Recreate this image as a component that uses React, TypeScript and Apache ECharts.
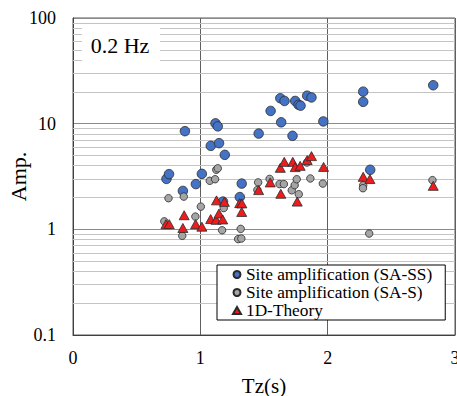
import React, { useEffect, useRef } from "react";
import * as echarts from "echarts";

// Tz(s), Amp.
const saSS: [number, number][] = [
  [0.734, 3.0], [0.754, 3.33], [0.863, 2.31], [0.879, 8.49], [0.965, 2.68],
  [1.012, 3.35], [1.082, 6.17], [1.119, 10.07], [1.137, 9.43], [1.147, 6.54],
  [1.192, 5.07], [1.178, 1.83], [1.31, 2.02], [1.325, 2.71], [1.458, 8.06],
  [1.552, 13.2], [1.628, 17.4], [1.661, 16.4], [1.635, 10.3], [1.724, 7.67],
  [1.745, 16.4], [1.771, 15.1], [1.787, 14.8], [1.839, 18.4], [1.873, 17.7],
  [1.966, 10.5], [2.279, 20.1], [2.279, 16.1], [2.334, 3.66], [2.829, 23.1],
];

const saS: [number, number][] = [
  [0.717, 1.19], [0.75, 1.97], [0.858, 0.868], [0.87, 2.04], [0.961, 1.32],
  [1.004, 1.64], [1.074, 2.88], [1.116, 2.98], [1.125, 3.66], [1.137, 3.78],
  [1.171, 0.98], [1.184, 1.59], [1.297, 0.808], [1.322, 0.818], [1.317, 1.01],
  [1.454, 2.78], [1.448, 2.36], [1.544, 3.0], [1.622, 2.68], [1.656, 2.68],
  [1.718, 2.34], [1.741, 2.62], [1.757, 2.98], [1.773, 2.15], [1.837, 4.29],
  [1.864, 3.03], [1.962, 2.71], [2.279, 2.61], [2.277, 2.45], [2.326, 0.912],
  [2.823, 2.92],
];

const theory1D: [number, number][] = [
  [0.73, 1.12], [0.756, 1.12], [0.873, 1.36], [0.863, 1.03], [0.963, 1.12],
  [1.012, 1.06], [1.081, 1.25], [1.127, 1.88], [1.189, 1.82], [1.124, 1.23],
  [1.146, 1.41], [1.176, 1.24], [1.309, 1.77], [1.326, 1.76], [1.325, 1.46],
  [1.458, 2.35], [1.549, 2.78], [1.628, 3.82], [1.659, 4.35], [1.726, 4.35],
  [1.745, 3.88], [1.784, 3.99], [1.839, 4.52], [1.873, 4.93], [1.968, 3.9],
  [1.632, 2.17], [1.761, 1.83], [2.279, 3.14], [2.332, 2.99], [2.829, 2.58],
];

const seriesNames = [
  "Site amplification (SA-SS)",
  "Site amplification (SA-S)",
  "1D-Theory",
];

const minorGridValues = [
  0.2, 0.3, 0.4, 0.5, 0.6, 0.7, 0.8, 0.9,
  2, 3, 4, 5, 6, 7, 8, 9,
  20, 30, 40, 50, 60, 70, 80, 90,
];

const panelLabel = "0.2 Hz";
const xName = "Tz(s)";
const yName = "Amp.";

const FONT = "Liberation Serif";

export default function App() {
  const ref = useRef<HTMLDivElement>(null);

  useEffect(() => {
    if (!ref.current) return;
    const chart = echarts.init(ref.current, undefined, { renderer: "svg" });
    const option: any = {
      animation: false,
      backgroundColor: "#fff",
      grid: {
        left: 73,
        right: 2,
        top: 18,
        bottom: 61,
        show: true,
        borderColor: "#595959",
        borderWidth: 1,
        backgroundColor: "transparent",
        outerBoundsMode: "none",
      },
      xAxis: {
        type: "value",
        min: 0,
        max: 3,
        interval: 1,
        name: xName,
        nameLocation: "middle",
        nameGap: 40,
        nameMoveOverlap: false,
        nameTextStyle: { fontFamily: FONT, fontSize: 21, color: "#000" },
        axisLine: { show: true, lineStyle: { color: "#404040", width: 1 } },
        axisTick: { show: false },
        axisLabel: { fontFamily: FONT, fontSize: 18, color: "#000", margin: 14 },
        splitLine: { show: true, lineStyle: { color: "#5f5f5f", width: 1 } },
      },
      yAxis: {
        type: "log",
        logBase: 10,
        min: 0.1,
        max: 100,
        name: yName,
        nameLocation: "middle",
        nameGap: 44,
        nameMoveOverlap: false,
        nameRotate: 90,
        nameTextStyle: { fontFamily: FONT, fontSize: 22, color: "#000" },
        axisLine: { show: true, lineStyle: { color: "#404040", width: 1 } },
        axisTick: { show: false },
        axisLabel: { fontFamily: FONT, fontSize: 18, color: "#000", margin: 17 },
        splitLine: { show: true, lineStyle: { color: "#8a8a8a", width: 1 } },
      },
      legend: {
        orient: "vertical",
        left: 217,
        top: 265,
        z: 20,
        data: seriesNames,
        backgroundColor: "#fff",
        borderColor: "#000",
        borderWidth: 1,
        borderRadius: 0,
        padding: [1, 13, 1, 15],
        itemGap: 1,
        itemWidth: 8,
        itemHeight: 7,
        textStyle: { fontFamily: FONT, fontSize: 17.3, color: "#000" },
        selectedMode: false,
      },
      graphic: [
        {
          type: "rect",
          z: 20,
          shape: { x: 82, y: 28, width: 78, height: 34 },
          style: { fill: "#fff" },
          silent: true,
        },
        {
          type: "text",
          z: 21,
          x: 120,
          y: 45,
          style: {
            text: panelLabel,
            fontFamily: FONT,
            fontSize: 22,
            fill: "#000",
            align: "center",
            verticalAlign: "middle",
          },
          silent: true,
        },
      ],
      series: [
        {
          name: seriesNames[0],
          type: "scatter",
          z: 10,
          data: saSS,
          symbol: "circle",
          symbolSize: 9.5,
          itemStyle: { color: "#4472C4", borderColor: "#2a2a2a", borderWidth: 0.8, opacity: 1 },
          markLine: {
            silent: true,
            z: 1,
            symbol: ["none", "none"],
            label: { show: false },
            lineStyle: { color: "#c4c4c4", width: 1, type: "solid" },
            emphasis: { disabled: true },
            data: minorGridValues.map((v) => ({ yAxis: v })),
          },
        },
        {
          name: seriesNames[1],
          type: "scatter",
          z: 11,
          data: saS,
          symbol: "circle",
          symbolSize: 7.5,
          itemStyle: { color: "#A5A5A5", borderColor: "#2a2a2a", borderWidth: 0.8, opacity: 1 },
        },
        {
          name: seriesNames[2],
          type: "scatter",
          z: 12,
          data: theory1D,
          symbol: "triangle",
          symbolSize: [10, 9],
          itemStyle: { color: "#EE1C1C", borderColor: "#2a2a2a", borderWidth: 0.8, opacity: 1 },
        },
      ],
    };
    chart.setOption(option);
    return () => chart.dispose();
  }, []);

  return (
    <div
      ref={ref}
      style={{ position: "fixed", left: 0, top: 0, width: 457, height: 396, background: "#fff" }}
    />
  );
}
